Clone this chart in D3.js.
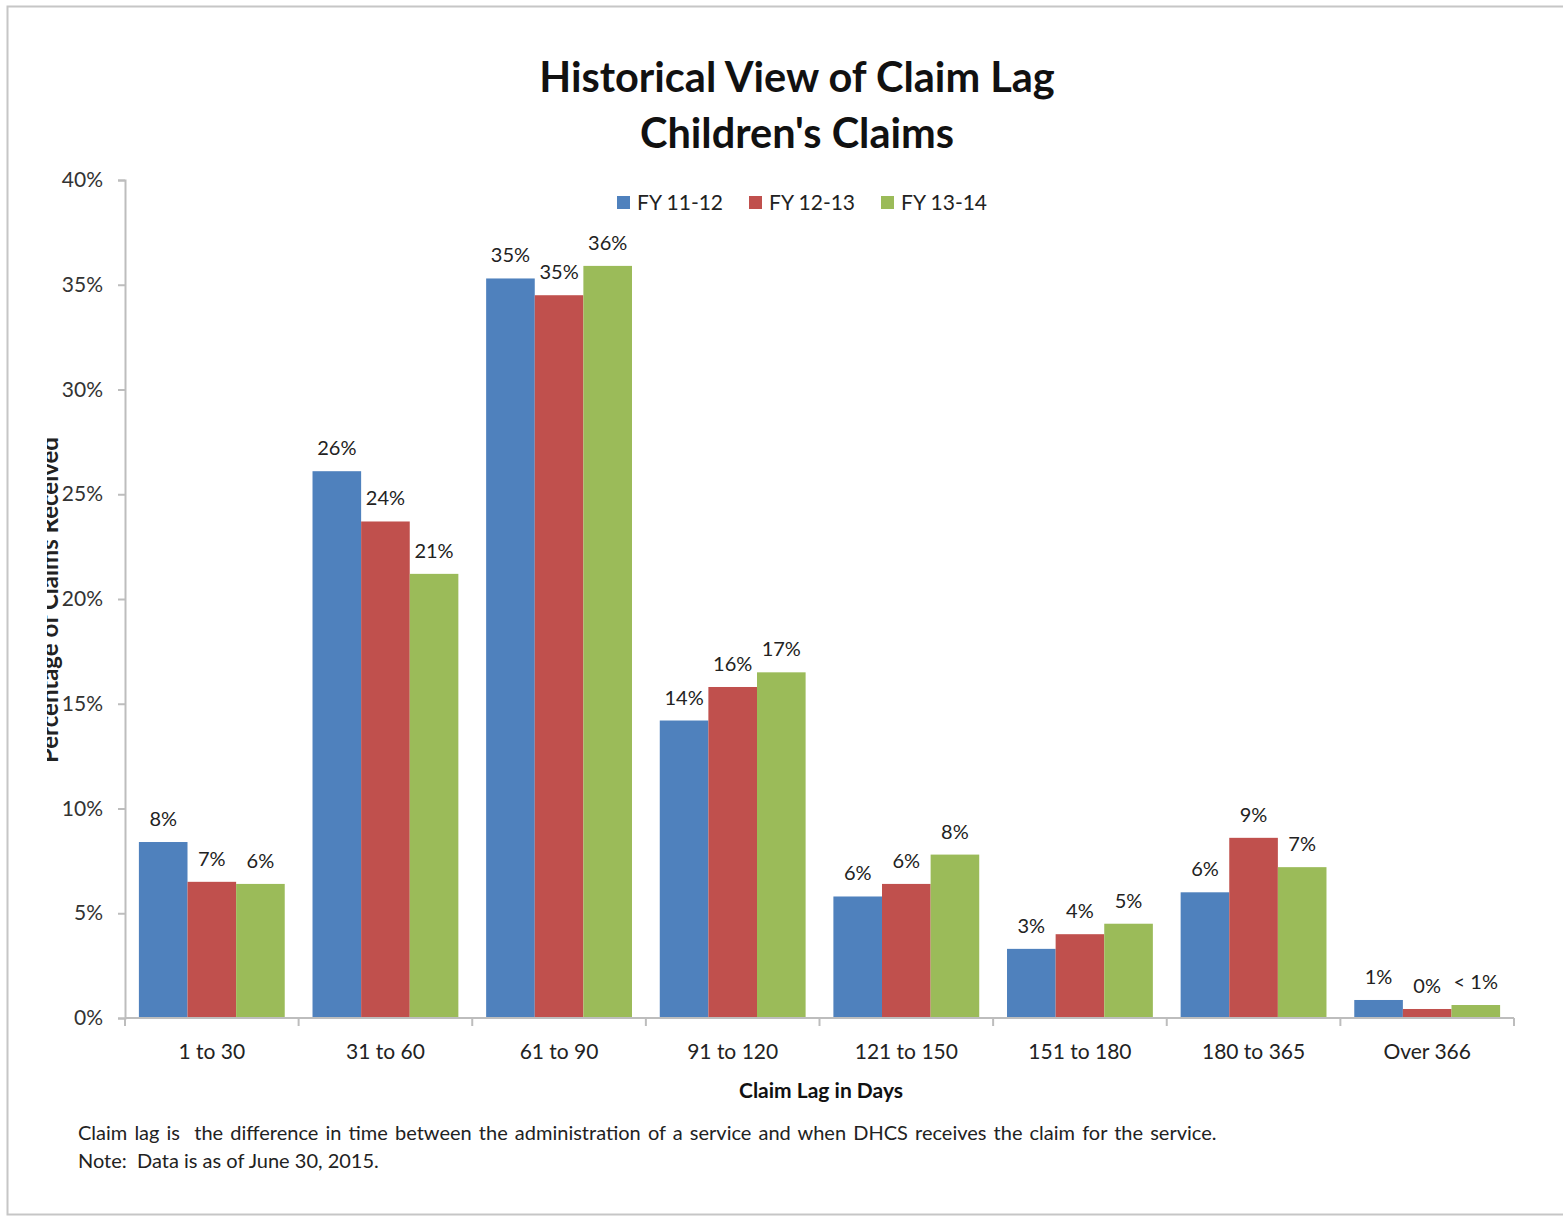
<!DOCTYPE html>
<html>
<head>
<meta charset="utf-8">
<script src="https://cdn.jsdelivr.net/npm/d3@7/dist/d3.min.js"></script>
<style>
  body { margin: 0; background: #fff; }
  text { font-family: Lato, "Open Sans", sans-serif; }
</style>
</head>
<body>
<div id="chart"></div>
<script>
// categories and series
var categories = ["1 to 30", "31 to 60", "61 to 90", "91 to 120", "121 to 150", "151 to 180", "180 to 365", "Over 366"];
var seriesNames = ["FY 11-12", "FY 12-13", "FY 13-14"];
var fy1112 = [8.4, 26.1, 35.3, 14.2, 5.8, 3.3, 6.0, 0.86];
var fy1213 = [6.5, 23.7, 34.5, 15.8, 6.4, 4.0, 8.6, 0.43];
var fy1314 = [6.4, 21.2, 35.9, 16.5, 7.8, 4.5, 7.2, 0.62];
var labels1112 = ["8%", "26%", "35%", "14%", "6%", "3%", "6%", "1%"];
var labels1213 = ["7%", "24%", "35%", "16%", "6%", "4%", "9%", "0%"];
var labels1314 = ["6%", "21%", "36%", "17%", "8%", "5%", "7%", "< 1%"];
var yTicks = [0, 5, 10, 15, 20, 25, 30, 35, 40];
var colors = ["#4F81BD", "#C0504D", "#9BBB59"];

var series = [
    {name: seriesNames[0], values: fy1112, labels: labels1112},
    {name: seriesNames[1], values: fy1213, labels: labels1213},
    {name: seriesNames[2], values: fy1314, labels: labels1314}
];

var W = 1563, H = 1216;
var plot = {left: 125, right: 1514, top: 180, bottom: 1018};

var svg = d3.select("#chart").append("svg")
    .attr("width", W)
    .attr("height", H);

// outer frame
svg.append("rect")
    .attr("x", 7.5).attr("y", 6.5)
    .attr("width", 1600).attr("height", 1208)
    .attr("fill", "none")
    .attr("stroke", "#c6c6c6")
    .attr("stroke-width", 2);

var x0 = d3.scaleBand()
    .domain(categories)
    .range([plot.left, plot.right])
    .paddingInner(0.16)
    .paddingOuter(0.08);

var x1 = d3.scaleBand()
    .domain(seriesNames)
    .range([0, x0.bandwidth()]);

var y = d3.scaleLinear()
    .domain([0, 40])
    .range([plot.bottom, plot.top]);

// title
svg.append("text")
    .attr("x", 797).attr("y", 92)
    .attr("text-anchor", "middle")
    .attr("font-size", 41.5).attr("font-weight", "bold")
    .attr("fill", "#111")
    .text("Historical View of Claim Lag");
svg.append("text")
    .attr("x", 797).attr("y", 148)
    .attr("text-anchor", "middle")
    .attr("font-size", 41.5).attr("font-weight", "bold")
    .attr("fill", "#111")
    .text("Children's Claims");

// y axis
var yAxis = d3.axisLeft(y)
    .tickValues(yTicks)
    .tickSize(7)
    .tickPadding(15)
    .tickFormat(function(d){ return d + "%"; });
var gy = svg.append("g")
    .attr("transform", "translate(" + plot.left + ",0)")
    .call(yAxis);
gy.select(".domain").attr("stroke", "#bdbdbd").attr("stroke-width", 2);
gy.selectAll(".tick line").attr("stroke", "#bdbdbd").attr("stroke-width", 2);
gy.selectAll(".tick text")
    .attr("font-size", 21)
    .attr("fill", "#333")
    .style("font-family", "Lato, sans-serif");

// y axis title, clipped at the left edge like the original
svg.append("clipPath").attr("id", "yclip")
    .append("rect").attr("x", 47).attr("y", 0).attr("width", 60).attr("height", H);
svg.append("g")
    .attr("clip-path", "url(#yclip)")
    .append("text")
    .attr("transform", "translate(58,600) rotate(-90)")
    .attr("text-anchor", "middle")
    .attr("font-size", 24).attr("font-weight", "bold")
    .attr("fill", "#222")
    .text("Percentage of Claims Received");

// bars
var groups = svg.append("g").attr("id", "bars")
    .selectAll("g")
    .data(series)
    .enter().append("g")
    .attr("fill", function(d, i){ return colors[i]; });

groups.selectAll("rect")
    .data(function(s){ return s.values.map(function(v, i){ return {s: s.name, c: categories[i], v: v}; }); })
    .enter().append("rect")
    .attr("x", function(d){ return x0(d.c) + x1(d.s); })
    .attr("y", function(d){ return y(d.v); })
    .attr("width", x1.bandwidth())
    .attr("height", function(d){ return y(0) - y(d.v); });

// data labels
var lbl = svg.append("g").attr("id", "labels");
series.forEach(function(s){
    s.values.forEach(function(v, i){
        lbl.append("text")
            .attr("x", x0(categories[i]) + x1(s.name) + x1.bandwidth() / 2)
            .attr("y", y(v) - 16)
            .attr("text-anchor", "middle")
            .attr("font-size", 20)
            .attr("fill", "#222")
            .text(s.labels[i]);
    });
});

// x axis
var gx = svg.append("g")
    .attr("transform", "translate(0," + plot.bottom + ")");
gx.append("line")
    .attr("x1", plot.left).attr("x2", plot.right)
    .attr("stroke", "#bdbdbd").attr("stroke-width", 2);
var step = (plot.right - plot.left) / categories.length;
d3.range(categories.length + 1).forEach(function(i){
    gx.append("line")
        .attr("x1", plot.left + i * step).attr("x2", plot.left + i * step)
        .attr("y1", 0).attr("y2", 8)
        .attr("stroke", "#bdbdbd").attr("stroke-width", 2);
});
gx.selectAll("text.cat")
    .data(categories)
    .enter().append("text")
    .attr("class", "cat")
    .attr("x", function(d){ return x0(d) + x0.bandwidth() / 2; })
    .attr("y", 41)
    .attr("text-anchor", "middle")
    .attr("font-size", 21)
    .attr("fill", "#222")
    .text(function(d){ return d; });

svg.append("text")
    .attr("x", 821).attr("y", 1098)
    .attr("text-anchor", "middle")
    .attr("font-size", 21).attr("font-weight", "bold")
    .attr("fill", "#111")
    .text("Claim Lag in Days");

// legend
var legendX = [617, 749, 881];
var legend = svg.append("g").attr("id", "legend");
series.forEach(function(s, i){
    legend.append("rect")
        .attr("x", legendX[i]).attr("y", 196)
        .attr("width", 13).attr("height", 13)
        .attr("fill", colors[i]);
    legend.append("text")
        .attr("x", legendX[i] + 20).attr("y", 210)
        .attr("font-size", 21)
        .attr("fill", "#222")
        .text(s.name);
});

// footnotes
svg.append("text")
    .attr("x", 78).attr("y", 1140)
    .attr("font-size", 20)
    .attr("word-spacing", 2)
    .style("white-space", "pre")
    .attr("fill", "#222")
    .text("Claim lag is  the difference in time between the administration of a service and when DHCS receives the claim for the service.");
svg.append("text")
    .attr("x", 78).attr("y", 1168)
    .attr("font-size", 20)
    .style("white-space", "pre")
    .attr("fill", "#222")
    .text("Note:  Data is as of June 30, 2015.");
</script>
</body>
</html>
